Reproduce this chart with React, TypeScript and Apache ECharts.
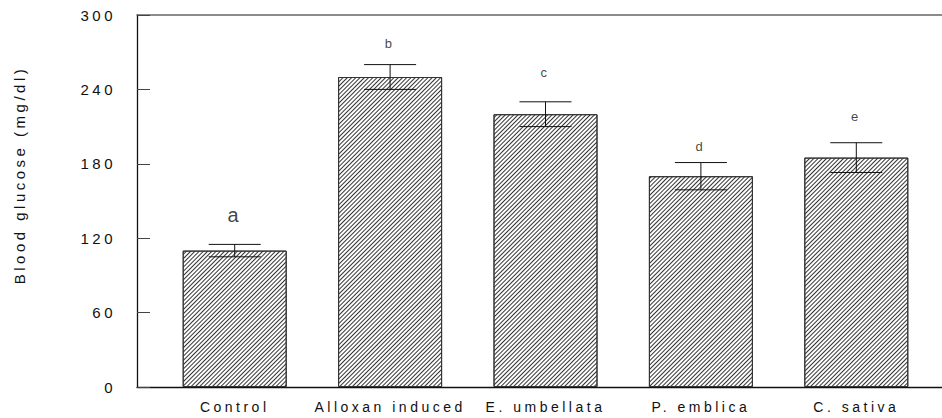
import React, { useEffect, useRef } from "react";
import * as echarts from "echarts";

const categories = ["Control", "Alloxan induced", "E. umbellata", "P. emblica", "C. sativa"];
const glucose = [110, 250, 220, 170, 185];
const errors = [5, 10, 10, 11, 12];
const letters = ["a", "b", "c", "d", "e"];
const letterY = [139, 277, 254, 194, 218];
const letterSize = [20, 13, 13, 13, 13];
const yTicks = [0, 60, 120, 180, 240, 300];

const FONT = "'Liberation Sans', Arial, sans-serif";

export default function App() {
  const ref = useRef<HTMLDivElement>(null);
  useEffect(() => {
    if (!ref.current) return;
    const chart = echarts.init(ref.current, null, { renderer: "svg" });
    const top = 15;
    const bottom = 31;
    chart.setOption({
      animation: false,
      backgroundColor: "#fff",
      textStyle: { fontFamily: FONT },
      grid: [
        { left: 157, right: 8, top, bottom },
        { left: 137, right: 0, top, bottom },
      ],
      xAxis: [
        {
          type: "category",
          gridIndex: 0,
          data: categories,
          axisLine: { show: false },
          axisTick: { show: false },
          axisLabel: { fontSize: 14, color: "#111", margin: 13, fontFamily: FONT },
        },
        {
          type: "value",
          gridIndex: 1,
          min: 0,
          max: 1,
          position: "bottom",
          axisLine: { show: true, lineStyle: { color: "#111", width: 1.3 } },
          axisTick: { show: false },
          axisLabel: { show: false },
          splitLine: { show: false },
        },
        {
          type: "value",
          gridIndex: 1,
          min: 0,
          max: 1,
          position: "top",
          axisLine: { show: true, lineStyle: { color: "#666", width: 1.5 } },
          axisTick: { show: false },
          axisLabel: { show: false },
          splitLine: { show: false },
        },
      ],
      yAxis: [
        {
          type: "value",
          gridIndex: 0,
          min: 0,
          max: 300,
          show: false,
        },
        {
          type: "value",
          gridIndex: 1,
          min: 0,
          max: 300,
          interval: 60,
          axisLine: { show: true, lineStyle: { color: "#111", width: 1.3 } },
          axisTick: { show: true, inside: true, length: 13, lineStyle: { color: "#444" } },
          axisLabel: {
            fontSize: 15,
            color: "#111",
            margin: 21,
            fontFamily: FONT,
            formatter: (v: number) => (yTicks.includes(v) ? String(v) : ""),
          },
          splitLine: { show: false },
        },
      ],
      graphic: [
        {
          type: "text",
          x: 19,
          y: 175,
          rotation: Math.PI / 2,
          style: {
            text: "Blood glucose (mg/dl)",
            fontSize: 15,
            fill: "#111",
            fontFamily: FONT,
            textAlign: "center",
            textVerticalAlign: "middle",
          },
        },
      ],
      series: [
        {
          type: "bar",
          xAxisIndex: 0,
          yAxisIndex: 0,
          data: glucose,
          barWidth: 104,
          itemStyle: {
            color: "#fff",
            borderColor: "#333",
            borderWidth: 1,
            decal: {
              symbol: "rect",
              symbolSize: 1,
              dashArrayX: [1, 0],
              dashArrayY: [1, 1.9],
              rotation: -Math.PI / 4,
              color: "#333",
            },
          },
        },
        {
          type: "custom",
          xAxisIndex: 0,
          yAxisIndex: 0,
          data: glucose.map((v, i) => [i, v, errors[i]]),
          renderItem: (params: any, api: any) => {
            const i = api.value(0);
            const v = api.value(1);
            const e = api.value(2);
            const hi = api.coord([i, v + e]);
            const lo = api.coord([i, v - e]);
            const hw = 26;
            const style = { stroke: "#111", lineWidth: 1 };
            return {
              type: "group",
              children: [
                { type: "line", shape: { x1: hi[0], y1: hi[1], x2: lo[0], y2: lo[1] }, style },
                { type: "line", shape: { x1: hi[0] - hw, y1: hi[1], x2: hi[0] + hw, y2: hi[1] }, style },
                { type: "line", shape: { x1: lo[0] - hw, y1: lo[1], x2: lo[0] + hw, y2: lo[1] }, style },
              ],
            };
          },
          z: 5,
        },
        {
          type: "scatter",
          xAxisIndex: 0,
          yAxisIndex: 0,
          symbolSize: 0,
          data: letterY.map((y, i) => ({
            value: [i, y],
            label: { fontSize: letterSize[i] },
          })),
          label: {
            show: true,
            position: "inside",
            color: "#111",
            fontFamily: FONT,
            formatter: (p: any) => letters[p.dataIndex],
          },
          z: 6,
        },
      ],
    });
    return () => chart.dispose();
  }, []);
  return (
    <div
      ref={ref}
      style={{ position: "fixed", left: 0, top: 0, width: 942, height: 418, letterSpacing: "3.5px" }}
    />
  );
}
